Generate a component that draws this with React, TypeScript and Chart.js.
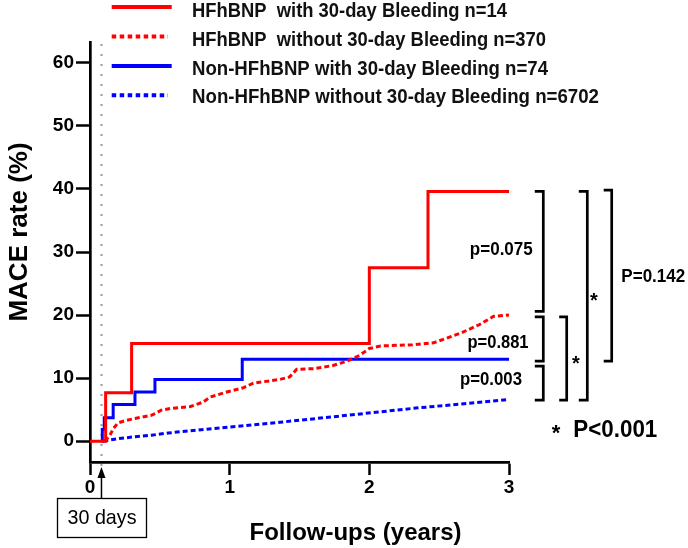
import React, { useEffect, useRef } from 'react';
import { Chart, registerables } from 'chart.js';

Chart.register(...registerables);

// ---------- data ----------
const seriesLabels = [
  'HFhBNP  with 30-day Bleeding n=14',
  'HFhBNP  without 30-day Bleeding n=370',
  'Non-HFhBNP with 30-day Bleeding n=74',
  'Non-HFhBNP without 30-day Bleeding n=6702',
];
const seriesColors = ['#ff0000', '#ff0000', '#0000ff', '#0000ff'];
const seriesDotted = [false, true, false, true];

const redSolidYears = [0, 0.112, 0.298, 2.0, 2.42, 3.0];
const redSolidRates = [0, 7.7, 15.5, 27.5, 39.6, 39.6];

const redDottedYears = [0.107, 0.143, 0.167, 0.2, 0.26, 0.32, 0.44, 0.51, 0.58, 0.72, 0.81, 0.86, 0.98, 1.1, 1.17, 1.36, 1.43, 1.48, 1.6, 1.74, 1.84, 1.93, 2.0, 2.08, 2.31, 2.46, 2.55, 2.67, 2.79, 2.89, 3.0];
const redDottedRates = [0, 0.95, 2.0, 2.9, 3.3, 3.6, 4.1, 4.9, 5.2, 5.5, 6.2, 7.0, 7.8, 8.5, 9.2, 9.8, 10.2, 11.4, 11.5, 12.0, 12.7, 13.6, 14.7, 15.1, 15.3, 15.6, 16.3, 17.3, 18.5, 19.8, 20.0];

const blueSolidYears = [0.082, 0.088, 0.102, 0.166, 0.322, 0.465, 1.09, 3.0];
const blueSolidRates = [0, 1.85, 3.7, 5.8, 7.8, 9.8, 13.0, 13.0];

const blueDottedYears = [0.095, 0.2, 0.32, 0.44, 0.56, 0.88, 1.36, 1.84, 2.31, 3.0];
const blueDottedRates = [0, 0.4, 0.7, 0.95, 1.3, 2.0, 3.0, 4.1, 5.2, 6.6];

const xTicks = [0, 1, 2, 3];
const yTicks = [0, 10, 20, 30, 40, 50, 60];

const pLabels = ['p=0.075', 'p=0.881', 'p=0.003', 'P=0.142'];
const starLabel = '*';
const sigLabel = 'P<0.001';
const landmarkYears = 30 / 365;
const landmarkLabel = '30 days';
const xTitle = 'Follow-ups (years)';
const yTitle = 'MACE rate (%)';

const FONT = "'Liberation Sans', Arial, sans-serif";

const toPoints = (xs: number[], ys: number[]) => xs.map((x, i) => ({ x, y: ys[i] }));

const annotations = {
  id: 'annotations',
  beforeDatasetsDraw(chart: any) {
    const { ctx, chartArea, scales } = chart;
    const x = scales.x.getPixelForValue(landmarkYears);
    ctx.save();
    ctx.strokeStyle = '#9a9a9a';
    ctx.lineWidth = 2;
    ctx.setLineDash([2, 8]);
    ctx.beginPath();
    ctx.moveTo(x, chartArea.top + 2);
    ctx.lineTo(x, chartArea.bottom + 12);
    ctx.stroke();
    ctx.restore();
  },
  afterDraw(chart: any) {
    const { ctx, scales } = chart;
    const xs = scales.x;
    const ys = scales.y;
    ctx.save();

    // legend
    const lineYs = [7, 36.5, 66, 95.3];
    const textYs = [11, 40, 69.5, 97.5];
    const textW = [315, 354, 356, 407];
    chart.data.datasets.forEach((ds: any, i: number) => {
      ctx.strokeStyle = ds.borderColor;
      ctx.lineWidth = 4;
      ctx.lineCap = 'butt';
      ctx.setLineDash(seriesDotted[i] ? [4.5, 3.5] : []);
      ctx.beginPath();
      ctx.moveTo(111.7, lineYs[i]);
      ctx.lineTo(seriesDotted[i] ? 168 : 171.7, lineYs[i]);
      ctx.stroke();
      ctx.setLineDash([]);
      ctx.fillStyle = '#111';
      ctx.font = `bold 21px ${FONT}`;
      ctx.textAlign = 'left';
      ctx.textBaseline = 'middle';
      ctx.fillText(ds.label, 192, textYs[i], textW[i]);
    });

    // axis titles
    ctx.fillStyle = '#000';
    ctx.font = `bold 26px ${FONT}`;
    ctx.textAlign = 'center';
    ctx.textBaseline = 'middle';
    ctx.save();
    ctx.translate(19.7, 232);
    ctx.rotate(-Math.PI / 2);
    ctx.fillText(yTitle, 0, 0, 182);
    ctx.restore();
    ctx.font = `bold 24px ${FONT}`;
    ctx.fillText(xTitle, 355.5, 533, 223);

    // 30 days arrow + box
    const lx = xs.getPixelForValue(landmarkYears);
    ctx.strokeStyle = '#000';
    ctx.lineWidth = 1.5;
    ctx.beginPath();
    ctx.moveTo(lx, 498);
    ctx.lineTo(lx, 476);
    ctx.stroke();
    ctx.fillStyle = '#000';
    ctx.beginPath();
    ctx.moveTo(lx, 467);
    ctx.lineTo(lx - 4, 478);
    ctx.lineTo(lx + 4, 478);
    ctx.closePath();
    ctx.fill();
    ctx.lineWidth = 1.3;
    ctx.strokeRect(57.5, 498.5, 89, 39);
    ctx.font = `21px ${FONT}`;
    ctx.fillText(landmarkLabel, 102, 518.5, 69);

    // brackets
    const bracket = (x: number, v1: number, v2: number, serif: number) => {
      const y1 = ys.getPixelForValue(v1);
      const y2 = ys.getPixelForValue(v2);
      ctx.beginPath();
      ctx.moveTo(x - serif, y1);
      ctx.lineTo(x, y1);
      ctx.lineTo(x, y2);
      ctx.lineTo(x - serif, y2);
      ctx.stroke();
    };
    ctx.lineWidth = 2.7;
    ctx.lineJoin = 'miter';
    bracket(543.3, 39.6, 20.6, 8.5);
    bracket(543.3, 19.7, 12.7, 8.5);
    bracket(543.3, 11.9, 6.5, 8.5);
    bracket(566.7, 19.7, 6.5, 7.5);
    bracket(587.3, 39.6, 6.5, 8.5);
    bracket(611.7, 39.8, 12.7, 8);

    ctx.font = `bold 18px ${FONT}`;
    ctx.textAlign = 'center';
    ctx.fillText(pLabels[0], 501.3, 250, 63);
    ctx.fillText(pLabels[1], 498, 343.3, 61);
    ctx.fillText(pLabels[2], 491, 380, 62);
    ctx.fillText(pLabels[3], 653.3, 277.3, 64);
    ctx.font = `bold 20px ${FONT}`;
    ctx.fillText(starLabel, 576, 364, 20);
    ctx.fillText(starLabel, 594, 301, 20);
    ctx.font = `bold 22px ${FONT}`;
    ctx.fillText(starLabel, 556, 434, 20);
    ctx.font = `bold 23px ${FONT}`;
    ctx.textAlign = 'left';
    ctx.fillText(sigLabel, 573.3, 430.5, 84);

    ctx.restore();
  },
};

export default function App() {
  const canvasRef = useRef<HTMLCanvasElement | null>(null);

  useEffect(() => {
    const canvas = canvasRef.current;
    if (!canvas) return;
    const seriesData = [
      toPoints(redSolidYears, redSolidRates),
      toPoints(redDottedYears, redDottedRates),
      toPoints(blueSolidYears, blueSolidRates),
      toPoints(blueDottedYears, blueDottedRates),
    ];
    const chart = new Chart(canvas, {
      type: 'line',
      data: {
        datasets: seriesData.map((d, i) => ({
          label: seriesLabels[i],
          data: d,
          borderColor: seriesColors[i],
          backgroundColor: seriesColors[i],
          borderWidth: 3,
          borderDash: seriesDotted[i] ? [5, 3] : [],
          stepped: seriesDotted[i] ? false : 'before',
          pointRadius: 0,
          tension: 0,
          fill: false,
        })),
      },
      options: {
        responsive: false,
        animation: false,
        devicePixelRatio: 1,
        layout: { padding: { top: 42, right: 179, left: 0, bottom: 0 } },
        plugins: {
          legend: { display: false },
          tooltip: { enabled: false },
          title: { display: false },
        },
        scales: {
          x: {
            type: 'linear',
            min: 0,
            max: 3,
            afterBuildTicks: (scale: any) => {
              scale.ticks = xTicks.map((v) => ({ value: v }));
            },
            afterFit: (scale: any) => {
              scale.height = 86;
            },
            grid: {
              display: true,
              drawOnChartArea: false,
              drawTicks: true,
              tickLength: 13,
              tickWidth: 2.5,
              color: '#000',
            },
            border: { display: true, color: '#000', width: 2.7 },
            ticks: {
              color: '#000',
              padding: 1,
              font: { family: FONT, size: 19, weight: 'bold' },
              maxRotation: 0,
            },
          },
          y: {
            type: 'linear',
            min: -3.3,
            max: 63.3,
            afterBuildTicks: (scale: any) => {
              scale.ticks = yTicks.map((v) => ({ value: v }));
            },
            afterFit: (scale: any) => {
              scale.width = 90;
            },
            grid: {
              display: true,
              drawOnChartArea: false,
              drawTicks: true,
              tickLength: 14,
              tickWidth: 2.5,
              color: '#000',
            },
            border: { display: true, color: '#000', width: 2.7 },
            ticks: {
              color: '#000',
              padding: 2,
              font: { family: FONT, size: 19, weight: 'bold' },
            },
          },
        },
      },
      plugins: [annotations],
    } as any);
    return () => chart.destroy();
  }, []);

  return (
    <div style={{ position: 'absolute', left: 0, top: 0, width: 688, height: 548, background: '#fff' }}>
      <canvas ref={canvasRef} width={688} height={548} style={{ width: 688, height: 548 }} />
    </div>
  );
}
